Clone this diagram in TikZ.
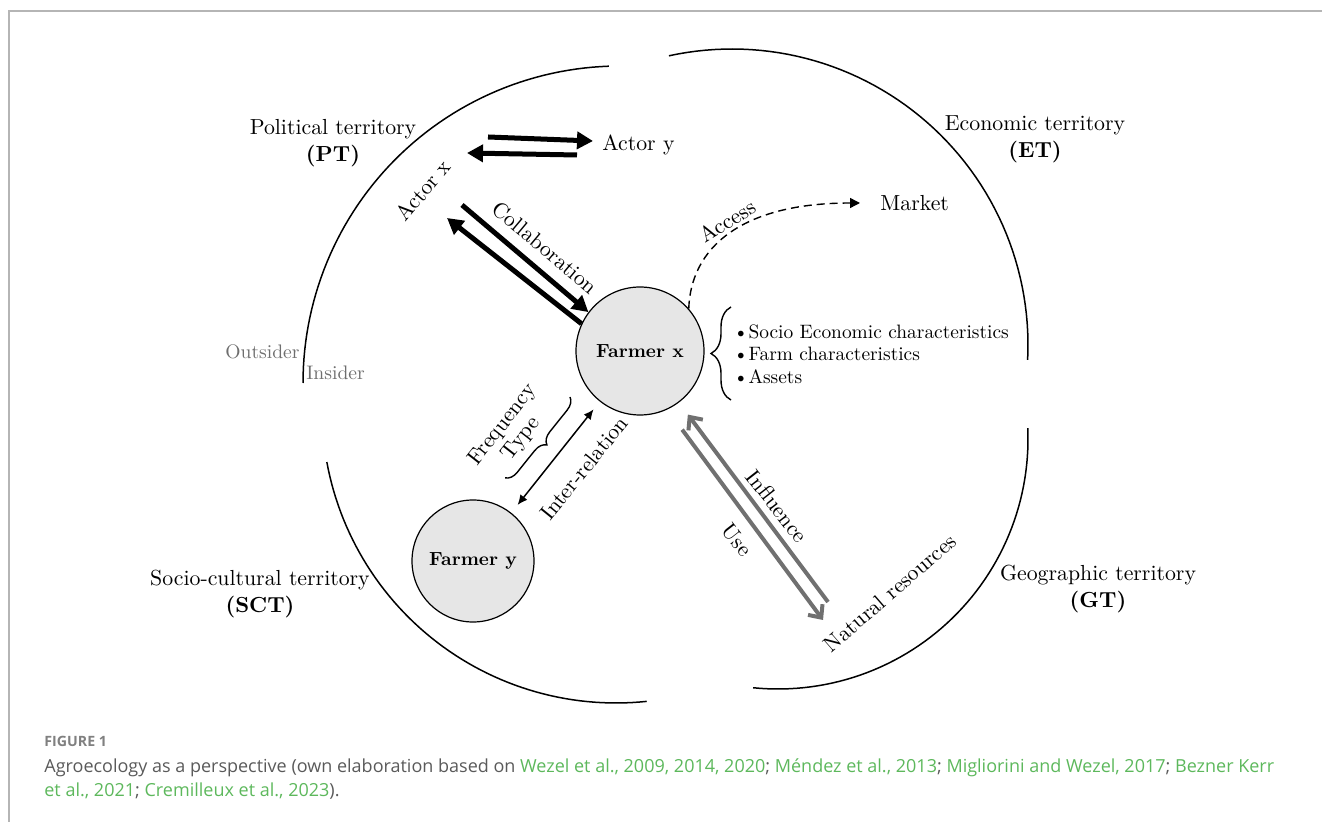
\documentclass[tikz,border=0pt]{standalone}
\usepackage{fontspec}
\usepackage{tikz}
\usetikzlibrary{arrows.meta,decorations.pathreplacing}
\newfontfamily\capfont{Open Sans}
\definecolor{farmfill}{HTML}{E6E6E6}
\definecolor{resgray}{HTML}{707070}
\definecolor{sidegray}{HTML}{6E6E6E}
\definecolor{framegray}{HTML}{B5B5B5}
\definecolor{citegreen}{HTML}{5DB85C}
\definecolor{captiongray}{HTML}{5A5A5A}
\definecolor{figgray}{HTML}{808080}

\begin{document}
\begin{tikzpicture}[x=0.5pt,y=-0.5pt,
    font=\fontsize{10.9}{13.5}\selectfont,
    terr/.style={line width=0.75pt},
    region/.style={align=center},
    farmer/.style={circle, draw, line width=0.6pt, fill=farmfill, minimum size=#1, inner sep=0pt,
                   font=\fontsize{9.5}{12}\selectfont\bfseries},
    farmer/.default=64pt,
    lbl/.style={inner sep=1pt},
    sidelbl/.style={text=sidegray, inner sep=0pt, font=\fontsize{9.8}{12}\selectfont},
    bigarrow/.style={-{Triangle[length=8pt,width=8.5pt]}, line width=2.5pt},
    resarrow/.style={-{Straight Barb[length=5pt,width=9pt]}, line width=2pt, draw=resgray},
    relarrow/.style={{Latex[length=5pt,width=4.5pt]}-{Latex[length=5pt,width=4.5pt]}, line width=0.75pt},
    accessline/.style={dash pattern=on 4pt off 2.5pt, line width=0.7pt, -{Triangle[length=5pt,width=5pt]}},
    curly/.style={decorate, decoration={brace, amplitude=#1}, line width=0.7pt},
    captxt/.style={anchor=base west, inner sep=0pt, font=\capfont\fontsize{9}{11}\selectfont, text=captiongray}
]
\useasboundingbox (0,0) rectangle (1322,822);
\draw[framegray, line width=1pt] (9,822) -- (9,11) -- (1322,11);

\draw[terr] plot[domain=92:180, samples=60] ({620+317*cos(\x)},{383-317*sin(\x)});
\draw[terr] plot[domain=-2.9:102.3, samples=60] ({732+296*cos(\x)},{345-296*sin(\x)});
\draw[terr] plot[domain=-95.7:2.5, samples=60] ({778+250*cos(\x)},{439-250*sin(\x)});
\draw[terr] plot[domain=190.4:276, samples=60] ({616+294*cos(\x)},{409-294*sin(\x)});

\node[region] (pt) at (333,143) {Political territory\\\textbf{(PT)}};
\node[region] (et) at (1035,139) {Economic territory\\\textbf{(ET)}};
\node[region] (gt) at (1098,589) {Geographic territory\\\textbf{(GT)}};
\node[region] (sct) at (260,594) {Socio-cultural territory\\\textbf{(SCT)}};
\node[sidelbl, anchor=east] (outs) at (300,352) {Outsider};
\node[sidelbl, anchor=west] (ins) at (306,373) {Insider};

\node[farmer] (fx) at (640,351) {Farmer x};
\node[farmer=61pt] (fy) at (473,561) {Farmer y};
\node[lbl, rotate=50] (actx) at (423,190) {Actor x};
\node[lbl, anchor=west] (acty) at (600,145) {Actor y};
\node[lbl, anchor=west] (market) at (878,203) {Market};
\node[lbl, rotate=32] (access) at (727,221) {Access};
\node[lbl, rotate=-40] (collab) at (545,248) {Collaboration};
\node[lbl, rotate=51] (inter) at (584,468) {Inter-relation};
\node[lbl, rotate=52, align=center, font=\fontsize{10.9}{11.5}\selectfont] (freq) at (512,432) {Frequency\\Type};
\node[lbl, rotate=-52] (infl) at (777,506) {Influence};
\node[lbl, rotate=-52] (use) at (737,540) {Use};
\node[lbl, rotate=41] (natres) at (890,593) {Natural resources};
\node[lbl, anchor=west, align=left, font=\fontsize{9.7}{11.25}\selectfont] (traits) at (731,354)
    {\textbullet Socio Economic characteristics\\\textbullet Farm characteristics\\\textbullet Assets};

\draw[curly=10pt] (731,400) -- (731,307);
\draw[curly=6pt] (570,397) -- (505,478);

\coordinate (actA) at (488,137);
\coordinate (actB) at (467,153);
\coordinate (colA) at (462,205);
\coordinate (colB) at (447,218);
\coordinate (nrIn) at (828,602);
\coordinate (nrUse) at (823,620);

\draw[bigarrow] (actA) -- ([shift={(-7,-4)}]acty.west);
\draw[bigarrow] ([shift={(-23,10)}]acty.west) -- (actB);
\draw[bigarrow] (colA) -- (fx.143);
\draw[bigarrow] (fx.155) -- (colB);
\draw[accessline] (fx.41) .. controls +(2,-60) and +(-120,0) .. ([xshift=-9]market.west);
\draw[relarrow, shorten <=5pt, shorten >=5pt] (fy) -- (fx);
\draw[resarrow, shorten >=7.5pt] (nrIn) -- (fx.-53);
\draw[resarrow, shorten <=12.5pt] (fx.-65) -- (nrUse);

\node[captxt, font=\capfont\bfseries\fontsize{7.1}{8}\selectfont, text=figgray] (figno) at (44,747) {FIGURE 1};
\node[captxt] (capA) at (44,772) {Agroecology as a perspective (own elaboration based on \textcolor{citegreen}{Wezel et al., 2009, 2014, 2020}; \textcolor{citegreen}{Méndez et al., 2013}; \textcolor{citegreen}{Migliorini and Wezel, 2017}; \textcolor{citegreen}{Bezner Kerr}};
\node[captxt] (capB) at (44,796) {\textcolor{citegreen}{et al., 2021}; \textcolor{citegreen}{Cremilleux et al., 2023}).};
\end{tikzpicture}
\end{document}
